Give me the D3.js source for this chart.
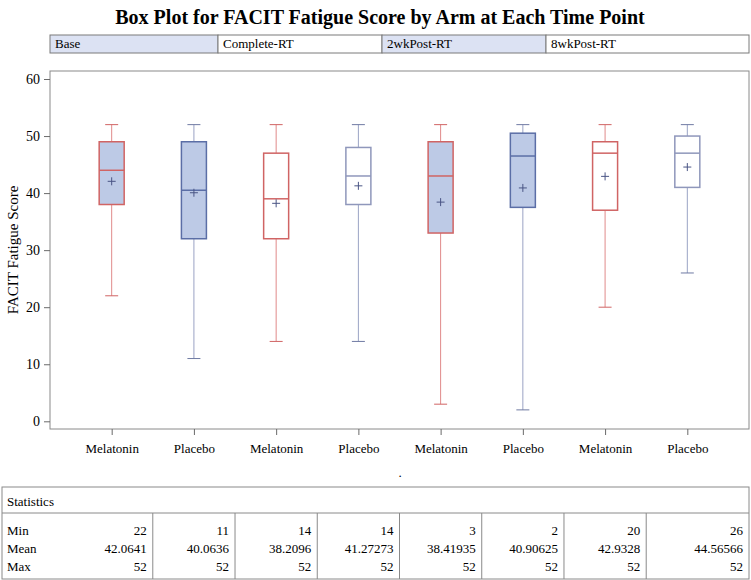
<!DOCTYPE html>
<html>
<head>
<meta charset="utf-8">
<script src="https://cdn.jsdelivr.net/npm/d3@7"></script>
<style>
  body { margin: 0; background: #fff; }
  text { font-family: "Liberation Serif", "Times New Roman", serif; fill: #000; }
</style>
</head>
<body>
<div id="chart"></div>
<script>
var width = 751;
var height = 580;

// chart data
var timepoints = ["Base", "Complete-RT", "2wkPost-RT", "8wkPost-RT"];
var arms = ["Melatonin", "Placebo", "Melatonin", "Placebo", "Melatonin", "Placebo", "Melatonin", "Placebo"];
var mins    = [22, 11, 14, 14, 3, 2, 20, 26];
var q1s     = [38, 32, 32, 38, 33, 37.5, 37, 41];
var medians = [44, 40.5, 39, 43, 43, 46.5, 47, 47];
var q3s     = [49, 49, 47, 48, 49, 50.5, 49, 50];
var maxs    = [52, 52, 52, 52, 52, 52, 52, 52];
var means   = ["42.0641", "40.0636", "38.2096", "41.27273", "38.41935", "40.90625", "42.9328", "44.56566"];
var yTicks  = [0, 10, 20, 30, 40, 50, 60];

var redLine = "#d06464", redWhisk = "#e08a8a";
var blueLine = "#5b6ea6", blueWhisk = "#9aa3c4", greyLine = "#8f97bb";
var boxFill = "#bdcae6", headFill = "#dce2f3";

var svg = d3.select("#chart").append("svg")
  .attr("width", width)
  .attr("height", height);

// title
svg.append("text")
  .attr("x", 380).attr("y", 24)
  .attr("text-anchor", "middle")
  .style("font-size", "20px").style("font-weight", "bold")
  .text("Box Plot for FACIT Fatigue Score by Arm at Each Time Point");

// time point header row
var headL = 50, headR = 749, headT = 35, headH = 18, cellW = 164;
timepoints.forEach(function(t, i) {
  var x0 = headL + i * cellW + (i > 0 ? 4 : 0);
  var x1 = i == timepoints.length - 1 ? headR : headL + (i + 1) * cellW + 4;
  svg.append("rect")
    .attr("x", x0).attr("y", headT).attr("width", x1 - x0).attr("height", headH)
    .style("fill", i % 2 == 0 ? headFill : "#fff")
    .style("stroke", "#7a7a7a").style("stroke-width", 1);
  svg.append("text")
    .attr("x", x0 + 5).attr("y", headT + 13)
    .style("font-size", "13px")
    .text(t);
});

// plot area
var plotL = 50, plotR = 749, plotT = 71, plotB = 429;
var x = d3.scalePoint().domain(d3.range(arms.length)).range([plotL, plotR]).padding(0.75);
var y = d3.scaleLinear().domain([0, 60]).range([421.3, 79]);

svg.append("rect")
  .attr("x", plotL).attr("y", plotT).attr("width", plotR - plotL).attr("height", plotB - plotT)
  .style("fill", "none").style("stroke", "#8a8a8a");

var yAxis = svg.append("g")
  .attr("transform", "translate(" + plotL + ",0)")
  .call(d3.axisLeft(y).tickValues(yTicks).tickSize(6).tickPadding(4));
yAxis.select(".domain").remove();
yAxis.selectAll("line").style("stroke", "#6a6a6a");
yAxis.selectAll("text").style("font-size", "14px");

var xAxis = svg.append("g")
  .attr("transform", "translate(0," + plotB + ")")
  .call(d3.axisBottom(x).tickSize(6).tickPadding(9).tickFormat(function(i) { return arms[i]; }));
xAxis.select(".domain").remove();
xAxis.selectAll("line").style("stroke", "#6a6a6a");
xAxis.selectAll("text").style("font-size", "13px");

svg.append("text")
  .attr("transform", "translate(18,250) rotate(-90)")
  .attr("text-anchor", "middle")
  .style("font-size", "15px")
  .text("FACIT Fatigue Score");

svg.append("text")
  .attr("x", 400).attr("y", 477)
  .attr("text-anchor", "middle")
  .style("font-size", "13px")
  .text(".");

// boxes
var boxW = 25, capW = 13;
arms.forEach(function(a, i) {
  var cx = x(i);
  var isMel = a == "Melatonin";
  var filled = Math.floor(i / 2) % 2 == 0;
  var line = isMel ? redLine : (filled ? blueLine : greyLine);
  var whisk = isMel ? redWhisk : blueWhisk;
  var g = svg.append("g");

  g.append("line").attr("x1", cx).attr("x2", cx).attr("y1", y(maxs[i])).attr("y2", y(q3s[i]))
    .style("stroke", whisk);
  g.append("line").attr("x1", cx).attr("x2", cx).attr("y1", y(q1s[i])).attr("y2", y(mins[i]))
    .style("stroke", whisk);
  g.append("line").attr("x1", cx - capW / 2).attr("x2", cx + capW / 2)
    .attr("y1", y(maxs[i])).attr("y2", y(maxs[i])).style("stroke", isMel ? redLine : "#6f7aa3");
  g.append("line").attr("x1", cx - capW / 2).attr("x2", cx + capW / 2)
    .attr("y1", y(mins[i])).attr("y2", y(mins[i])).style("stroke", isMel ? redLine : "#6f7aa3");

  g.append("rect")
    .attr("x", cx - boxW / 2).attr("y", y(q3s[i]))
    .attr("width", boxW).attr("height", y(q1s[i]) - y(q3s[i]))
    .style("fill", filled ? boxFill : "#fff")
    .style("stroke", line).style("stroke-width", 1.5);
  g.append("line").attr("x1", cx - boxW / 2).attr("x2", cx + boxW / 2)
    .attr("y1", y(medians[i])).attr("y2", y(medians[i]))
    .style("stroke", line).style("stroke-width", 1.5);

  var my = y(+means[i]);
  g.append("path")
    .attr("d", "M" + (cx - 4) + "," + my + "H" + (cx + 4) + "M" + cx + "," + (my - 4) + "V" + (my + 4))
    .style("stroke", "#4a5585").style("stroke-width", 1);
});

// statistics table
var tabL = 2, tabR = 749, tabT = 487, tabHead = 513, tabB = 579;
var step = x.step();
svg.append("rect")
  .attr("x", tabL).attr("y", tabT).attr("width", tabR - tabL).attr("height", tabB - tabT)
  .style("fill", "none").style("stroke", "#8a8a8a");
svg.append("line").attr("x1", tabL).attr("x2", tabR).attr("y1", tabHead).attr("y2", tabHead)
  .style("stroke", "#8a8a8a");
svg.append("text").attr("x", 7).attr("y", 506).style("font-size", "13px").text("Statistics");

var rowNames = ["Min", "Mean", "Max"];
var rowVals = [mins, means, maxs];
var rowY = [535, 553, 571];
rowNames.forEach(function(n, r) {
  svg.append("text").attr("x", 7).attr("y", rowY[r]).style("font-size", "13px").text(n);
});
arms.forEach(function(a, i) {
  var colR = i == arms.length - 1 ? tabR : x(i) + step / 2;
  if (i < arms.length - 1) {
    svg.append("line").attr("x1", colR).attr("x2", colR).attr("y1", tabHead).attr("y2", tabB)
      .style("stroke", "#8a8a8a");
  }
  rowVals.forEach(function(vals, r) {
    svg.append("text")
      .attr("x", colR - 6).attr("y", rowY[r])
      .attr("text-anchor", "end")
      .style("font-size", "13px")
      .text(vals[i]);
  });
});
</script>
</body>
</html>
